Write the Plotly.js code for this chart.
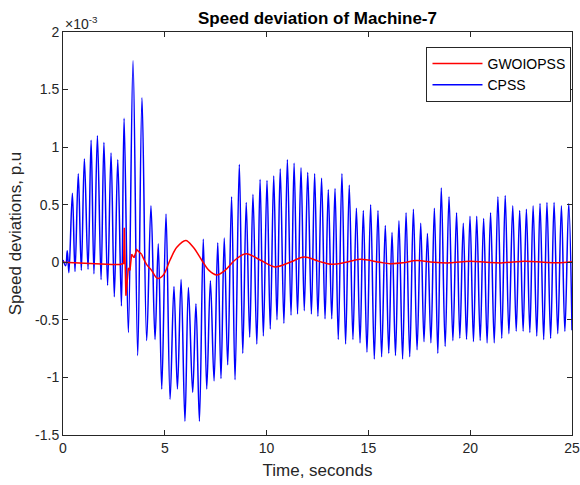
<!DOCTYPE html>
<html>
<head>
<meta charset="utf-8">
<script src="https://cdn.plot.ly/plotly-3.0.1.min.js"></script>
<style>html,body{margin:0;padding:0;background:#fff;}#chart{width:580px;height:485px;}</style>
</head>
<body>
<div id="chart"></div>
<script>
// CPSS speed deviation (units of 1e-3 p.u.), extrema
const cpssT = [0.00,0.13,0.21,0.29,0.46,0.59,0.75,0.90,1.05,1.23,1.38,1.52,1.69,1.87,2.01,2.19,2.36,2.52,2.69,2.87,
  3.00,3.21,3.44,3.67,3.88,4.11,4.32,4.52,4.68,4.85,5.06,5.26,5.45,5.62,5.80,5.99,6.16,6.37,6.53,6.70,
  6.89,7.06,7.24,7.42,7.60,7.76,7.92,8.09,8.28,8.45,8.66,8.83,9.00,9.17,9.33,9.52,9.68,9.84,10.02,10.18,
  10.35,10.51,10.67,10.85,11.02,11.20,11.35,11.52,11.69,11.85,12.02,12.20,12.36,12.52,12.70,12.87,13.03,13.20,13.36,13.52,
  13.70,13.88,14.06,14.24,14.41,14.59,14.75,14.93,15.11,15.29,15.47,15.65,15.83,16.00,16.16,16.33,16.50,16.68,16.85,17.03,
  17.21,17.39,17.57,17.73,17.90,18.07,18.24,18.41,18.58,18.77,18.96,19.15,19.33,19.49,19.66,19.82,19.99,20.16,20.32,20.49,
  20.66,20.83,21.00,21.18,21.36,21.55,21.72,21.90,22.09,22.26,22.43,22.60,22.76,22.93,23.09,23.27,23.43,23.61,23.77,23.95,
  24.12,24.30,24.48,24.65,24.84,25.00];
const cpssV = [0.02,-0.03,0.10,-0.09,0.60,-0.08,0.77,-0.07,0.90,-0.06,1.06,-0.10,1.10,-0.15,1.04,-0.20,0.95,-0.30,0.89,-0.38,
  1.25,-0.61,1.75,-0.81,1.43,-0.68,0.49,-0.67,0.16,-1.10,0.42,-1.19,-0.21,-1.10,-0.15,-1.38,-0.22,-1.13,-0.36,-1.38,
  0.20,-1.10,-0.16,-1.03,0.17,-1.01,0.21,-0.89,0.57,-1.02,0.85,-0.79,0.52,-0.65,0.59,-0.71,0.72,-0.64,0.71,-0.58,
  0.75,-0.50,0.81,-0.53,0.89,-0.46,0.86,-0.45,0.82,-0.42,0.78,-0.45,0.77,-0.47,0.73,-0.49,0.63,-0.49,0.64,-0.67,
  0.77,-0.71,0.67,-0.67,0.47,-0.70,0.45,-0.78,0.50,-0.84,0.45,-0.82,0.32,-0.79,0.26,-0.81,0.36,-0.84,0.43,-0.82,
  0.46,-0.76,0.34,-0.69,0.25,-0.70,0.47,-0.79,0.645,-0.73,0.57,-0.68,0.43,-0.66,0.34,-0.67,0.40,-0.69,0.40,-0.68,
  0.38,-0.70,0.43,-0.70,0.57,-0.66,0.58,-0.62,0.49,-0.60,0.45,-0.60,0.46,-0.61,0.49,-0.64,0.51,-0.67,0.52,-0.66,
  0.52,-0.62,0.49,-0.60,0.51,-0.59];

// GWOIOPSS speed deviation (units of 1e-3 p.u.)
const gwoT = [0,0.5,1.0,1.5,2.0,2.4,2.8,2.98,3.01,3.09,3.21,3.29,3.37,3.49,3.62,3.86,
  4.11,4.35,4.65,4.93,5.26,5.59,6.03,6.40,6.81,7.17,7.55,7.96,8.45,8.99,9.68,10.41,11.15,11.84,12.54,13.2,13.9,14.59,
  15.57,16.06,16.7,17.37,18.2,19.0,20.0,20.8,21.6,22.7,23.6,24.3,25];
const gwoV = [0,-0.005,-0.005,-0.01,-0.015,-0.02,-0.02,-0.01,0.30,-0.29,-0.05,-0.07,0.07,0.04,0.11,0.07,
  -0.02,-0.07,-0.14,-0.11,0.02,0.13,0.19,0.13,0.02,-0.07,-0.11,-0.07,0.02,0.075,0.02,-0.04,0.0,0.046,0.01,-0.017,0.0,0.026,
  0.0,-0.012,-0.005,0.015,0.0,-0.005,0.01,0.0,-0.005,0.01,0.0,-0.005,0.005];
const gwoSmoothFrom = 3.86; // smooth part starts here

const xTicks = [0,5,10,15,20,25];
const yTickVals = [-1.5,-1,-0.5,0,0.5,1,1.5,2];
const yTickText = ['-1.5','-1','-0.5','0','0.5','1','1.5','2'];

const split = gwoT.findIndex(t => t >= gwoSmoothFrom);
const axisCol = '#262626';
const fontFam = 'Liberation Sans, Arial, sans-serif';

const traces = [
  {x: cpssT, y: cpssV, type:'scatter', mode:'lines', name:'CPSS', legendrank: 2,
   line:{color:'#0000FF', width:1.5, shape:'spline', smoothing:1}},
  {x: gwoT.slice(0, split+1), y: gwoV.slice(0, split+1), type:'scatter', mode:'lines', name:'GWOIOPSS',
   legendgroup:'g', showlegend:false, line:{color:'#FF0000', width:1.5}},
  {x: gwoT.slice(split), y: gwoV.slice(split), type:'scatter', mode:'lines', name:'GWOIOPSS', legendrank: 1,
   legendgroup:'g', line:{color:'#FF0000', width:1.5, shape:'spline', smoothing:1}}
];

const axisCommon = {
  showline:true, linecolor:axisCol, linewidth:1, mirror:'ticks', ticks:'inside', ticklen:5,
  tickcolor:axisCol, tickwidth:1, showgrid:false, zeroline:false,
  tickfont:{family:fontFam, size:14, color:axisCol}
};

const layout = {
  width:580, height:485,
  margin:{l:63, r:8, t:32, b:50},
  paper_bgcolor:'#fff', plot_bgcolor:'#fff',
  font:{family:fontFam, color:axisCol},
  title:{text:'<b>Speed deviation of Machine-7</b>', font:{family:fontFam, size:17, color:'#000'},
         xref:'paper', x:0.5, xanchor:'center', yref:'container', y:0.962, yanchor:'middle'},
  xaxis: Object.assign({}, axisCommon, {range:[0,25], tickvals:xTicks,
         title:{text:'Time, seconds', font:{family:fontFam, size:17, color:axisCol}, standoff:9}}),
  yaxis: Object.assign({}, axisCommon, {range:[-1.5,2], tickvals:yTickVals, ticktext:yTickText,
         title:{text:'Speed deviations, p.u', font:{family:fontFam, size:17, color:axisCol}, standoff:9}}),
  legend:{x:0.999, y:0.963, xanchor:'right', yanchor:'top', bgcolor:'#fff', bordercolor:axisCol, borderwidth:1,
          font:{family:fontFam, size:14, color:'#000'}, traceorder:'normal', tracegroupgap:0, itemwidth:50},
  showlegend:true,
  annotations:[{text:'×10<sup>-3</sup>', xref:'paper', yref:'paper', x:0, y:1, xanchor:'left', yanchor:'bottom',
                showarrow:false, font:{family:fontFam, size:14, color:axisCol}, yshift:-2}]
};

Plotly.newPlot('chart', traces, layout, {displayModeBar:false, staticPlot:true});
</script>
</body>
</html>
